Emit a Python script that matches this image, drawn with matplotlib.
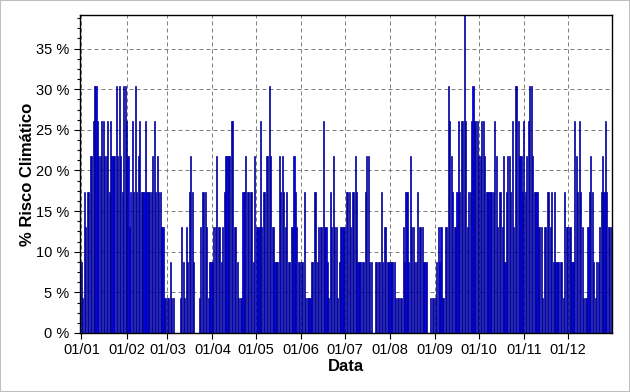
import numpy as np
import matplotlib
matplotlib.use("Agg")
import matplotlib.pyplot as plt
from matplotlib.ticker import MultipleLocator, FixedLocator

jan = [2,1,4,3,4,4,5,5,6,7,7,6,5,5,6,6,5,5,6,4,6,5,5,5,7,5,7,5,4,7,7]
feb = [6,5,3,4,6,4,7,4,5,6,4,4,4,6,4,4,4,4,5,6,4,5,4,4,3,3,1,1]
mar = [1,1,2,1,1,0,0,0,0,1,3,2,1,3,2,4,5,4,2,0,0,0,1,3,4,4,4,3,1,2,2]
apr = [2,3,3,5,3,3,2,3,4,5,5,5,5,6,6,3,3,2,1,1,1,4,4,5,4,4,4,4,2,5]
may = [3,3,3,6,3,4,4,5,5,7,5,3,3,2,2,2,5,4,5,4,3,4,2,2,3,3,5,4,3,2,2]
jun = [2,2,4,1,1,1,1,2,2,4,4,2,3,3,3,6,3,3,2,1,4,3,5,3,3,1,2,3,3,3]
jul = [3,4,4,4,3,4,4,5,4,2,2,2,2,2,4,5,5,2,2,0,0,2,2,2,2,4,2,3,3,2,2]
aug = [2,2,2,2,1,1,1,1,1,3,2,4,4,2,5,3,3,2,2,4,3,3,3,2,2,2,0,0,1,1,1]
sep = [1,2,3,2,3,1,1,3,3,7,6,5,4,3,3,4,6,4,6,6,9,6,3,4,4,6,7,6,6,6]
oct_ = [5,5,6,6,5,4,4,4,4,4,4,6,5,3,4,4,3,5,2,4,5,5,4,6,3,7,7,6,5,5,4]
nov = [6,4,5,6,7,7,5,4,4,4,3,3,3,1,3,3,4,4,3,4,2,4,2,2,2,2,2,1,4,3]
dec = [3,3,3,2,2,6,5,4,6,4,3,1,1,1,3,4,5,4,2,1,2,2,3,4,5,4,6,4,3,3,3]

months = [jan, feb, mar, apr, may, jun, jul, aug, sep, oct_, nov, dec]
month_labels = ["01/01", "01/02", "01/03", "01/04", "01/05", "01/06",
                "01/07", "01/08", "01/09", "01/10", "01/11", "01/12"]
n_classes = 23

counts = np.concatenate([np.array(m) for m in months])
risk = counts / n_classes * 100.0
days = np.arange(len(risk))
month_starts = np.cumsum([0] + [len(m) for m in months[:-1]])

plt.rcParams["font.family"] = ["Liberation Sans", "DejaVu Sans"]

fig = plt.figure(figsize=(6.3, 3.92), dpi=100)
ax = fig.add_axes([80 / 630, 1 - 333 / 392, (612 - 80) / 630, (333 - 15) / 392])

ax.bar(days, risk, width=0.75, color="#0000ff", edgecolor="#00008b",
       linewidth=0.5, zorder=2)

ax.set_xlim(-1, 364.5)
ax.set_ylim(0, 9 / n_classes * 100)

ax.set_yticks(np.arange(0, 40, 5))
ax.set_yticklabels(["%d %%" % v for v in range(0, 40, 5)])
ax.yaxis.set_minor_locator(MultipleLocator(1.25))

ax.xaxis.set_major_locator(FixedLocator(month_starts))
ax.set_xticklabels(month_labels)

ax.tick_params(axis="both", which="major", labelsize=10.5, length=4,
               width=0.8, direction="out", colors="black")
ax.tick_params(axis="both", which="minor", length=2, width=0.8)

ax.grid(True, which="major", color="#808080", linestyle=(0, (4, 3)),
        linewidth=0.72, zorder=1)
ax.set_axisbelow(True)

for sp in ax.spines.values():
    sp.set_linewidth(1.0)
    sp.set_color("black")

ax.set_xlabel("Data", fontsize=12, fontweight="bold", labelpad=1)
ax.set_ylabel("% Risco Climático", fontsize=12, fontweight="bold", labelpad=1)

# light frame round the picture, as in the screenshot
fig.patches.append(plt.Rectangle((0, 0), 1, 1, transform=fig.transFigure,
                                 fill=False, edgecolor="#c0c0c0", linewidth=1.5))

fig.savefig("out.png", dpi=100, facecolor="white")
